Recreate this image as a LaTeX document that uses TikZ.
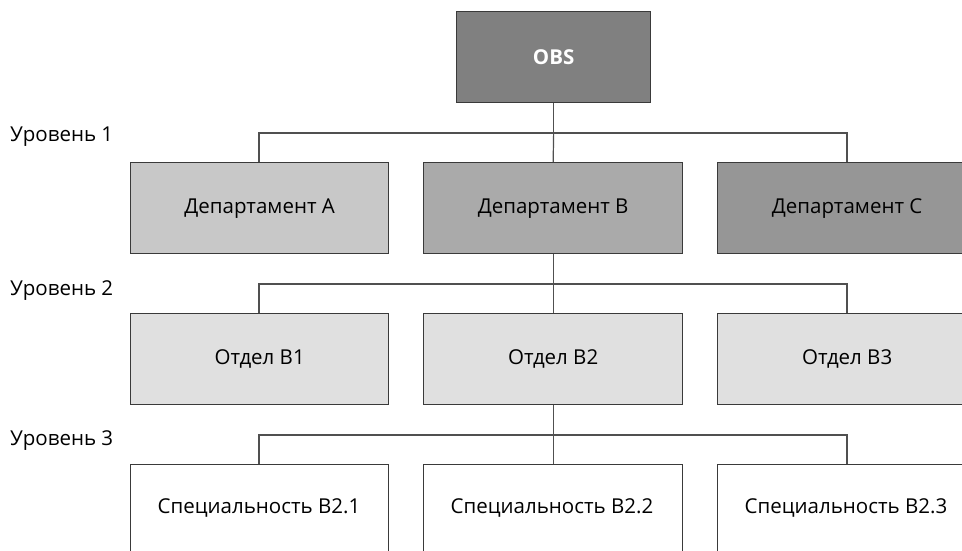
\documentclass[tikz,border=0pt]{standalone}
\usepackage{fontspec}
\setmainfont{Open Sans}
\definecolor{obsfill}{HTML}{808080}
\definecolor{depA}{HTML}{C8C8C8}
\definecolor{depB}{HTML}{AAAAAA}
\definecolor{depC}{HTML}{969696}
\definecolor{divfill}{HTML}{E0E0E0}
\definecolor{edge}{HTML}{3A3A3A}
\definecolor{wire}{HTML}{505050}
\newcommand\boxfont{\fontsize{20.5}{24}\selectfont}
\begin{document}
\begin{tikzpicture}[x=1pt,y=-1pt,
  unit/.style={draw=edge,line width=1.3pt,anchor=north west,inner sep=0pt,
    font=\boxfont},
  lvl/.style={anchor=west,inner sep=0pt,font=\boxfont},
  wire/.style={draw=wire,line width=1.2pt}]
\useasboundingbox (0,0) rectangle (962,550);
\clip (0,0) rectangle (962,550);
% top of the structure
\node[unit,fill=obsfill,minimum width=194pt,minimum height=91pt,
  text=white,font=\boxfont\bfseries] (obs) at (456,11) {OBS};
% level labels
\node[lvl] (l1) at (10,137) {Уровень 1};
\node[lvl] (l2) at (10,291) {Уровень 2};
\node[lvl] (l3) at (10,441) {Уровень 3};
% departments
\node[unit,fill=depA,minimum width=258pt,minimum height=91pt] (da) at (130,162) {Департамент А};
\node[unit,fill=depB,minimum width=259pt,minimum height=91pt] (db) at (423,162) {Департамент В};
\node[unit,fill=depC,minimum width=259pt,minimum height=91pt] (dc) at (717,162) {Департамент С};
% divisions
\node[unit,fill=divfill,minimum width=258pt,minimum height=91pt] (b1) at (130,313) {Отдел В1};
\node[unit,fill=divfill,minimum width=259pt,minimum height=91pt] (b2) at (423,313) {Отдел В2};
\node[unit,fill=divfill,minimum width=259pt,minimum height=91pt] (b3) at (717,313) {Отдел В3};
% specialities
\node[unit,fill=white,minimum width=258pt,minimum height=120pt] (s1) at (130,464) {};
\node[unit,fill=white,minimum width=259pt,minimum height=120pt] (s2) at (423,464) {};
\node[unit,fill=white,minimum width=259pt,minimum height=120pt] (s3) at (717,464) {};
\node[font=\boxfont] (t1) at (259,508) {Специальность В2.1};
\node[font=\boxfont] (t2) at (552,508) {Специальность В2.2};
\node[font=\boxfont] (t3) at (846,508) {Специальность В2.3};
% connectors
\coordinate (j1) at (obs.south |- 0,133);
\draw[wire] (obs.south) -- (j1);
\draw[wire] (da.north -| 259,0) |- (j1) -| (dc.north -| 847,0);
\draw[wire] (j1) -- (db.north);
\coordinate (j2) at (db.south |- 0,284);
\draw[wire] (db.south) -- (j2);
\draw[wire] (b1.north -| 259,0) |- (j2) -| (b3.north -| 847,0);
\draw[wire] (j2) -- (b2.north);
\coordinate (j3) at (b2.south |- 0,435);
\draw[wire] (b2.south) -- (j3);
\draw[wire] (s1.north -| 259,0) |- (j3) -| (s3.north -| 847,0);
\draw[wire] (j3) -- (s2.north);
\end{tikzpicture}
\end{document}
